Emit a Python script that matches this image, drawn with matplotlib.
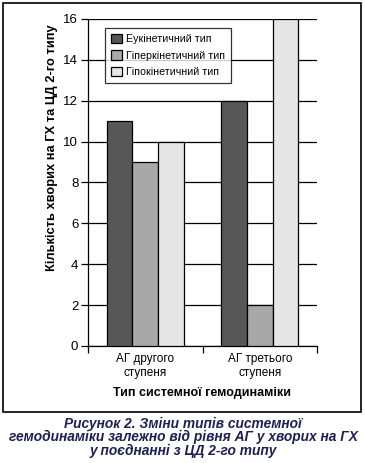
import matplotlib
matplotlib.use("Agg")
import matplotlib.pyplot as plt
from matplotlib.patches import Rectangle
import numpy as np

categories = ["АГ другого\nступеня", "АГ третього\nступеня"]
series_names = ["Еукінетичний тип", "Гіперкінетичний тип", "Гіпокінетичний тип"]
eukinetic = [11, 12]
hyperkinetic = [9, 2]
hypokinetic = [10, 16]
y_ticks = [0, 2, 4, 6, 8, 10, 12, 14, 16]
colors = ["#575757", "#a8a8a8", "#e6e6e6"]

plt.rcParams['font.family'] = ['Liberation Sans', 'DejaVu Sans']

fig = plt.figure(figsize=(3.65, 4.63), dpi=100)
ax = fig.add_axes([88/365, 1-346/463, (317-88)/365, (346-19)/463])

x = np.arange(len(categories)) + 0.5
w = 0.223
for i, (vals, name) in enumerate(zip([eukinetic, hyperkinetic, hypokinetic], series_names)):
    ax.bar(x + (i - 1) * w, vals, width=w, color=colors[i], edgecolor='black',
           linewidth=0.9, label=name, zorder=3)

ax.set_xlim(0, 2)
ax.set_ylim(0, 16)
ax.set_yticks(y_ticks)
ax.set_yticklabels([str(t) for t in y_ticks], fontsize=9.5)
ax.yaxis.grid(True, color='black', linewidth=0.9, zorder=0)
ax.set_xticks([0, 1, 2])
ax.set_xticklabels([])
ax.set_xticks(x, minor=True)
ax.set_xticklabels(categories, minor=True, fontsize=8.5)
ax.tick_params(axis='x', which='minor', length=0, pad=5)
ax.tick_params(axis='x', which='major', length=5, width=0.9, direction='out')
ax.tick_params(axis='y', length=5, width=0.9, direction='out', pad=2)
for s in ['top', 'right']:
    ax.spines[s].set_visible(False)
for s in ['left', 'bottom']:
    ax.spines[s].set_linewidth(0.9)

leg = ax.legend(loc='upper left', bbox_to_anchor=((105-88)/229, (346-28)/327),
                fontsize=7.7, frameon=True, fancybox=False, edgecolor='black',
                handlelength=1.0, handleheight=1.0, handletextpad=0.4,
                borderpad=0.55, labelspacing=0.55, borderaxespad=0)
leg.get_frame().set_linewidth(0.9)

fig.text(52/365, 1-148/463, "Кількість хворих на ГХ та ЦД 2-го типу",
         rotation=90, ha='center', va='center', fontsize=9.3, fontweight='bold')
fig.text(202/365, 1-393/463, "Тип системної гемодинаміки",
         ha='center', va='center', fontsize=9, fontweight='bold')

fig.patches.append(Rectangle((3/365, 1-412/463), (361-3)/365, (412-3)/463,
                             transform=fig.transFigure, fill=False,
                             edgecolor='black', linewidth=1.2))

fig.text(183/365, 1-437/463,
         "Рисунок 2. Зміни типів системної\nгемодинаміки залежно від рівня АГ у хворих на ГХ\nу поєднанні з ЦД 2-го типу",
         ha='center', va='center', fontsize=9.9, fontweight='bold', style='italic',
         color='#1e2050', linespacing=0.95)

fig.savefig("out.png", dpi=100)
